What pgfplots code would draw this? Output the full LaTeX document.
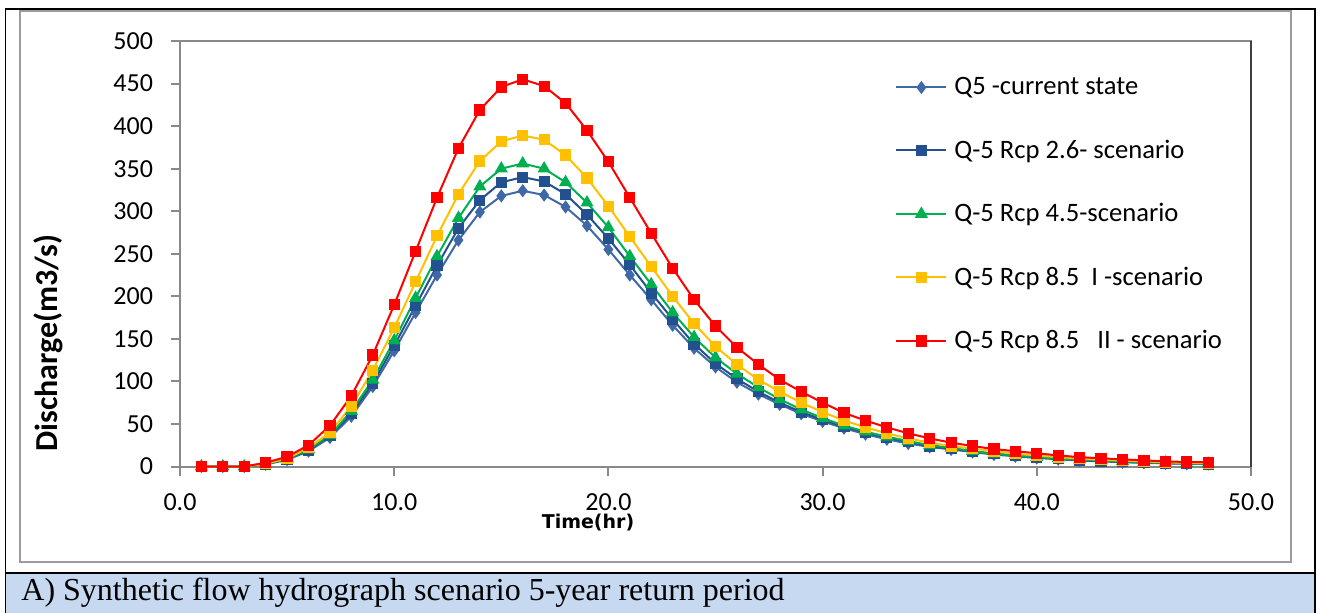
\documentclass[border=0pt]{standalone}
\usepackage{pgfplots}
\usepackage{pgfplotstable}
\pgfplotsset{compat=1.18}
\usepackage{fontspec}
\setmainfont{Carlito}
\newfontfamily\dejavu{DejaVu Sans}
\newfontfamily\tnr{Liberation Serif}
\definecolor{cCur}{HTML}{3E68A6}
\definecolor{cRa}{HTML}{23508E}
\definecolor{cRb}{HTML}{00B050}
\definecolor{cRc}{HTML}{FFC000}
\definecolor{cRd}{HTML}{FF0000}
\definecolor{axgray}{HTML}{898989}
\definecolor{framegray}{HTML}{9B9B9B}
\definecolor{capblue}{HTML}{C6D9F1}

\pgfplotstableread{
x cur r26 r45 r85a r85b
1 0 0 0 0 0
2 0 0 0 0 0
3 0 0 0 0 0
4 2.5 2.7 2.9 3.2 4.5
5 8 8.4 8.8 9.6 11.5
6 18 19 20 22 25
7 34 36 37 40 48
8 59 62 65 71 83
9 94 98 102 113 131
10 136 142 148 163 190
11 181 189 198 217 253
12 225 236 247 271 316
13 266 280 292 320 374
14 299 313 329 359 419
15 318 334 350 382 446
16 324 340 356 389 455
17 319 335 350 384 447
18 305 320 334 366 427
19 283 296 310 339 395
20 255 268 281 306 358
21 225 237 247 270 316
22 196 204 214 235 274
23 166 173 181 200 233
24 139 144 152 168 196
25 117 121 128 141 165
26 99 103 109 120 140
27 85 88 93 102 120
28 73 75 79 88 102
29 62 64 67 75 88
30 53 55 57 64 75
31 45 47 48 54 63
32 38 40 41 46 54
33 32 34 35 39 46
34 27 29 30 33 39
35 23 24 25 28 33
36 20 21 22 24 28
37 17 18 18 21 24
38 14 15 15 18 20.5
39 12 13 13 15 18
40 10 11 11 13 15.5
41 8.5 9 9.5 11 13
42 7 7.5 8 9.5 11
43 6 6.5 7 8 9.6
44 5 5.5 6 7 8.4
45 4.3 4.7 5 6 7.2
46 3.7 4 4.3 5 6
47 3.2 3.4 3.7 4.3 5.3
48 2.8 3 3.2 3.8 4.9
}\datatable

\begin{document}
\begin{tikzpicture}
\useasboundingbox (-90pt,-72.75pt) rectangle (568.5pt,233.25pt);
% caption band and frames
\fill[capblue] (-87.25pt,-80pt) rectangle (567.5pt,-53.25pt);
\draw[black, line width=1.4pt] (-87.25pt,-53.25pt) -- (567.5pt,-53.25pt);
\draw[black, line width=0.9pt] (-87.25pt,-80pt) -- (-87.25pt,228.6pt) -- (567.5pt,228.6pt) -- (567.5pt,-80pt);
\draw[framegray, line width=1pt] (-80pt,-47.75pt) rectangle (555.5pt,227.75pt);
\node[anchor=base west, inner sep=0pt, font=\tnr\fontsize{16}{19}\selectfont] at (-79.5pt,-66.75pt) {A) Synthetic flow hydrograph scenario 5-year return period};

\begin{axis}[
  at={(0pt,0pt)}, anchor=south west,
  scale only axis, width=535.5pt, height=212.75pt,
  xmin=0, xmax=50, ymin=0, ymax=500,
  clip=false,
  xtick={0,10,20,30,40,50},
  xticklabels={0.0,10.0,20.0,30.0,40.0,50.0},
  ytick={0,50,100,150,200,250,300,350,400,450,500},
  yticklabels={0,50,100,150,200,250,300,350,400,450,500},
  tick pos=left, tick align=outside, major tick length=4.5pt,
  tick style={axgray, line width=1pt},
  axis line style={axgray, line width=1pt},
  ticklabel style={font=\fontsize{13}{15}\selectfont, inner sep=0pt},
  xticklabel style={anchor=base, yshift=-17.4pt},
  yticklabel style={anchor=east, xshift=-8.8pt},
  xlabel={Time(hr)},
  ylabel={Discharge(m3/s)},
  every axis x label/.style={at={(rel axis cs:0.381,-0.1328)}, anchor=center, font=\dejavu\bfseries\fontsize{9.5}{11}\selectfont},
  every axis y label/.style={at={(rel axis cs:-0.1232,0.2902)}, anchor=center, rotate=90, font=\bfseries\fontsize{16}{19}\selectfont},
  legend style={at={(rel axis cs:0.6676,0.5923)}, anchor=west, draw=none, fill=none,
    inner sep=0pt, row sep=21.1pt, column sep=3.5pt,
    font=\fontsize{13.3}{15}\selectfont, nodes={inner sep=0pt}},
  legend cell align=left,
  legend image code/.code={\draw[mark repeat=2,mark phase=2,#1] plot coordinates {(0pt,0pt) (12.5pt,0pt) (25pt,0pt)};},
  every axis plot/.append style={line width=1pt},
]
\addplot[cCur, mark=diamond*, mark size=2.5pt, mark options={fill=cCur, draw=cCur}] table[x=x,y=cur]{\datatable};
\addlegendentry{Q5 -current state}
\addplot[cRa, mark=square*, mark size=2.3pt, mark options={fill=cRa, draw=cRa}] table[x=x,y=r26]{\datatable};
\addlegendentry{Q-5 Rcp 2.6- scenario}
\addplot[cRb, mark=triangle*, mark size=2.8pt, mark options={fill=cRb, draw=cRb}] table[x=x,y=r45]{\datatable};
\addlegendentry{Q-5 Rcp 4.5-scenario}
\addplot[cRc, mark=square*, mark size=2.3pt, mark options={fill=cRc, draw=cRc}] table[x=x,y=r85a]{\datatable};
\addlegendentry{Q-5 Rcp 8.5\ \ I -scenario}
\addplot[cRd, mark=square*, mark size=2.3pt, mark options={fill=cRd, draw=cRd}] table[x=x,y=r85b]{\datatable};
\addlegendentry{Q-5 Rcp 8.5\ \ \ II - scenario}
\draw[black!75, line width=0.7pt] (rel axis cs:1,0) -- (rel axis cs:1,1);
\end{axis}
\end{tikzpicture}
\end{document}
